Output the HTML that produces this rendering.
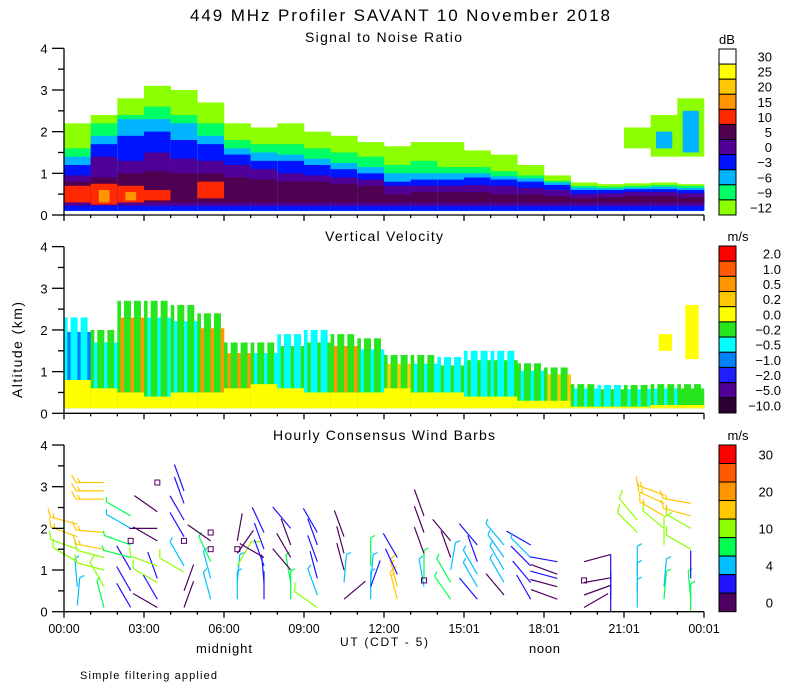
<!DOCTYPE html>
<html><head><meta charset="utf-8"><title>449 MHz Profiler SAVANT</title>
<style>
html,body{margin:0;padding:0;background:#fff;}
svg{display:block;font-family:"Liberation Sans",sans-serif;}
text{fill:#000;}
</style></head>
<body>
<svg id="chart" width="800" height="700" viewBox="0 0 800 700" xmlns="http://www.w3.org/2000/svg">
<rect x="0" y="0" width="800" height="700" fill="#fff"/>
<text x="190" y="21" font-size="17" textLength="420" lengthAdjust="spacing">449 MHz Profiler SAVANT 10 November 2018</text>
<text x="305" y="42" font-size="14" textLength="157" lengthAdjust="spacing">Signal to Noise Ratio</text>
<text x="325" y="241" font-size="14" textLength="118" lengthAdjust="spacing">Vertical Velocity</text>
<text x="273" y="440" font-size="14" textLength="222" lengthAdjust="spacing">Hourly Consensus Wind Barbs</text>
<text x="0" y="0" font-size="14" transform="translate(22,398) rotate(-90)" textLength="96" lengthAdjust="spacing">Altitude (km)</text>
<text x="340" y="646" font-size="12" textLength="88" lengthAdjust="spacing">UT  (CDT - 5)</text>
<text x="196" y="653" font-size="13" textLength="56" lengthAdjust="spacing">midnight</text>
<text x="529" y="653" font-size="13" textLength="31" lengthAdjust="spacing">noon</text>
<text x="80" y="679" font-size="11" textLength="137" lengthAdjust="spacing">Simple filtering applied</text>
<g id="layer"></g>
</svg>
<script>
// ---------- data ----------
const hours = [0,1,2,3,4,5,6,7,8,9,10,11,12,13,14,15,16,17,18,19,20,21,22,23];
const xTickLabels = ["00:00","03:00","06:00","09:00","12:00","15:01","18:01","21:01","00:01"];
const yTickLabels = ["0","1","2","3","4"];
// SNR band tops (km) per hour
const snrLimeTop   = [2.2,2.4,2.8,3.1,3.0,2.7,2.2,2.1,2.2,2.0,1.9,1.75,1.65,1.75,1.75,1.55,1.45,1.2,0.95,0.78,0.74,0.76,0.78,0.74];
const snrGreenTop  = [1.6,2.2,2.4,2.6,2.4,2.2,1.8,1.7,1.7,1.6,1.5,1.4,1.2,1.3,1.15,1.15,1.05,0.95,0.82,0.7,0.68,0.7,0.72,0.7];
const snrCyanTop   = [1.4,1.9,2.3,2.3,2.2,1.9,1.6,1.5,1.45,1.35,1.25,1.15,1.0,1.0,1.0,1.0,0.93,0.88,0.78,0.66,0.64,0.66,0.68,0.65];
const snrBlueTop   = [1.2,1.7,1.9,2.0,1.8,1.7,1.45,1.3,1.3,1.2,1.1,1.0,0.8,0.85,0.85,0.9,0.85,0.8,0.72,0.6,0.6,0.62,0.62,0.6];
const snrPurpleTop = [0.95,1.4,1.3,1.5,1.35,1.3,1.2,1.1,1.0,0.95,0.9,0.85,0.7,0.7,0.7,0.72,0.7,0.65,0.6,0.5,0.52,0.55,0.55,0.52];
const snrDarkTop   = [0.8,0.9,1.0,1.05,1.0,1.0,0.9,0.85,0.8,0.8,0.75,0.7,0.5,0.55,0.55,0.55,0.5,0.5,0.45,0.4,0.42,0.45,0.45,0.42];
const snrRedLo     = [0.3,0.25,0.3,0.35,0,0.4,0,0,0,0,0,0,0,0,0,0,0,0,0,0,0,0,0,0];
const snrRedHi     = [0.7,0.75,0.7,0.6,0,0.8,0,0,0,0,0,0,0,0,0,0,0,0,0,0,0,0,0,0];
const snrOrangeHi  = [0,0.6,0.55,0,0,0,0,0,0,0,0,0,0,0,0,0,0,0,0,0,0,0,0,0];
const snrAloftLo   = [0,0,0,0,0,0,0,0,0,0,0,0,0,0,0,0,0,0,0,0,0,1.6,1.4,1.4];
const snrAloftHi   = [0,0,0,0,0,0,0,0,0,0,0,0,0,0,0,0,0,0,0,0,0,2.1,2.4,2.8];
const snrAloftCoreLo = [0,0,0,0,0,0,0,0,0,0,0,0,0,0,0,0,0,0,0,0,0,0,1.6,1.5];
const snrAloftCoreHi = [0,0,0,0,0,0,0,0,0,0,0,0,0,0,0,0,0,0,0,0,0,0,2.0,2.5];
// Vertical velocity
const velTop       = [2.3,2.0,2.7,2.7,2.6,2.4,1.7,1.7,1.9,2.0,1.9,1.8,1.4,1.4,1.35,1.5,1.5,1.2,1.1,0.7,0.68,0.68,0.7,0.7];
const velYellowTop = [0.8,0.6,0.5,0.4,0.5,0.5,0.6,0.7,0.6,0.5,0.5,0.5,0.6,0.5,0.5,0.4,0.4,0.3,0.3,0.16,0.16,0.16,0.2,0.2];
const velMainCat   = [6,5,5,5,5,5,5,5,6,6,5,5,5,5,6,6,6,5,5,5,6,5,5,5];
const velAltCat    = [7,6,2,6,6,2,2,6,5,5,2,6,3,6,5,5,5,6,3,6,5,6,6,5];
const velAloftLo   = [0,0,0,0,0,0,0,0,0,0,0,0,0,0,0,0,0,0,0,0,0,0,1.5,1.3];
const velAloftHi   = [0,0,0,0,0,0,0,0,0,0,0,0,0,0,0,0,0,0,0,0,0,0,1.9,2.6];
// Wind barbs: hour, altitude(km), speed(m/s), direction(deg from north)
const barbHour  = [0,0,0,0,0,0, 1,1,1,1,1,1,1,1,1, 2,2,2,2,2,2,2, 3,3,3,3,3,3,3,3, 4,4,4,4,4,4,4,4, 5,5,5,5, 6,6,6,6,6, 7,7,7,7,7,7, 8,8,8,8,8,8, 9,9,9,9,9,9, 10,10,10,10,10, 11,11,11,11, 12,12,12,12, 13,13,13,13,13, 14,14,14,14,14, 15,15,15,15,15, 16,16,16,16,16, 17,17,17,17,17, 18,18,18,18,18, 19,19,19,19, 20,20,20, 21,21,21,21,21, 22,22,22,22,22,22,22, 23,23,23,23,23,23,23];
const barbAlt   = [0.15,0.6,1.2,1.5,1.8,2.1, 0.1,0.6,1.0,1.3,1.5,1.9,2.7,2.9,3.1, 0.1,0.5,1.0,1.3,1.6,2.0,2.3, 0.1,0.3,0.8,0.7,1.1,1.7,2.0,2.4, 0.1,0.5,1.1,0.95,1.8,2.2,2.6,2.9, 0.3,0.8,1.2,1.7, 0.3,0.7,1.1,1.4,1.7, 0.3,0.7,1.1,1.5,1.9,1.3, 0.3,0.7,1.0,1.3,1.6,2.0, 0.1,0.4,0.8,1.2,1.6,1.9, 0.3,0.7,1.0,1.4,1.8, 0.3,0.7,0.6,1.1, 0.3,0.6,0.9,1.3, 0.6,0.8,1.4,1.9,2.3, 0.3,0.7,1.0,1.3,1.7, 0.3,0.6,0.9,1.2,1.6, 0.4,0.7,1.0,1.3,1.6, 0.3,0.7,1.1,1.6,1.3, 0.3,0.6,0.9,1.2,0.8, 0.1,0.4,0.7,1.2, 0.0,0.3,0.7, 0.1,0.5,0.9,1.9,2.2, 0.3,0.6,1.6,2.0,2.3,2.6,2.8, 0.0,0.3,0.8,1.5,2.0,2.3,2.6];
const barbSpeed = [5,5,10,10,15,15, 8,10,10,10,15,15,15,15,15, 3,3,3,8,8,5,8, 1,3,3,10,10,1,1,1, 1,1,5,10,3,3,3,3, 5,5,8,1, 5,5,10,1,1, 3,3,3,3,3,1, 8,8,1,1,1,3, 10,5,3,3,3,3, 1,5,1,1,1, 5,5,3,8, 15,15,3,3, 5,8,1,1,1, 8,8,5,1,1, 3,5,5,3,3, 1,5,5,5,5, 3,3,3,3,5, 1,1,1,3,3, 1,1,1,1, 3,3,3, 5,5,5,10,10, 8,5,10,10,15,15,15, 8,8,3,10,10,15,15];
const barbDir   = [5,355,300,290,290,285, 345,330,285,285,280,275,270,270,270, 330,330,330,285,290,300,300, 300,330,340,300,290,300,270,305, 20,20,330,300,330,330,340,340, 345,345,335,305, 0,5,30,35,10, 0,355,340,340,335,300, 0,350,320,330,340,320, 305,340,345,340,340,330, 50,5,345,345,340, 0,5,20,0, 345,345,335,330, 350,0,340,340,340, 325,330,10,340,320, 320,330,330,340,320, 320,330,330,325,320, 330,320,315,300,315, 290,285,290,280,285, 60,70,80,75, 0,0,0, 0,0,0,315,320, 5,5,0,310,300,295,290, 0,355,0,300,300,285,280];
const calmHour  = [2,3,4,5,5,6,13,19];
const calmAlt   = [1.7,3.1,1.7,1.5,1.9,1.5,0.75,0.75];
// Colour bars
const dbLabels  = ["30","25","20","15","10","5","0","\u22123","\u22126","\u22129","\u221212"];
const velLabels = ["2.0","1.0","0.5","0.2","0.0","\u22120.2","\u22120.5","\u22121.0","\u22122.0","\u22125.0","\u221210.0"];
const windLabels= ["30","","20","","10","","4","","0"];
const windSpeedEdges = [2,4,7,10,15,20,25,30];

// ---------- styles / scales ----------
const dbColors  = ["#ffffff","#ffff00","#ffc800","#ff9600","#ff2800","#500050","#500096","#0014ff","#00b4ff","#00ff64","#8cff00"];
const velColors = ["#ff0000","#ff5a00","#ff9600","#ffc800","#ffff00","#28e61e","#00ffff","#0082ff","#1e1eff","#500096","#2d0032"];
const windColors= ["#ff0000","#ff5a00","#ff9600","#ffc800","#8cff00","#00ff50","#00c0ff","#1e14ff","#500060"];
const NS="http://www.w3.org/2000/svg";
const layer=document.getElementById('layer');
const X0=64, X1=704, HPX=(X1-X0)/24;
const panelBottom=[215,413.3,611.7], KM=41.67;
function xS(h){return X0+h*HPX;}
function yS(p,km){return panelBottom[p]-km*KM;}
function mk(tag,attrs,parent){const e=document.createElementNS(NS,tag);for(const k in attrs)e.setAttribute(k,attrs[k]);(parent||layer).appendChild(e);return e;}
function band(g,p,i,lo,hi,color,x0,w){
  if(hi<=lo) return;
  const r=mk('rect',{x:x0,y:yS(p,hi),width:w,height:(hi-lo)*KM,fill:color},g);
  
  
}

// ---------- SNR panel ----------
const gS=mk('g',{});


hours.forEach((h,i)=>{
  const x=xS(h), w=HPX+0.3;
  band(gS,0,i,0.1,snrLimeTop[i],dbColors[10],x,w);
  band(gS,0,i,0.1,snrGreenTop[i],dbColors[9],x,w);
  band(gS,0,i,0.1,snrCyanTop[i],dbColors[8],x,w);
  band(gS,0,i,0.1,snrBlueTop[i],dbColors[7],x,w);
  band(gS,0,i,0.22,snrPurpleTop[i],dbColors[6],x,w);
  band(gS,0,i,0.3,snrDarkTop[i],dbColors[5],x,w);
  band(gS,0,i,snrRedLo[i],snrRedHi[i],dbColors[4],x,w);
  band(gS,0,i,snrRedLo[i]+0.05,snrOrangeHi[i],dbColors[3],x+w*0.3,w*0.4);
  band(gS,0,i,snrAloftLo[i],snrAloftHi[i],dbColors[10],x,w);
  band(gS,0,i,snrAloftCoreLo[i],snrAloftCoreHi[i],dbColors[8],x+w*0.2,w*0.6);
});

// ---------- Velocity panel ----------
const gV=mk('g',{});


hours.forEach((h,i)=>{
  const x=xS(h), n=8, sw=HPX/n;
  for(let k=0;k<n;k++){
    const c=(k%3===1)?velColors[velAltCat[i]]:velColors[velMainCat[i]];
    band(gV,1,i,0.12,velTop[i]*(k%3===1?0.85:1),c,x+k*sw,sw+0.3);
  }
  band(gV,1,i,0.12,velYellowTop[i],velColors[4],x,HPX+0.3);
  band(gV,1,i,velAloftLo[i],velAloftHi[i],velColors[4],x+HPX*0.3,HPX*0.5);
});

// ---------- Wind barbs ----------
function windColor(s){let k=0;while(k<windSpeedEdges.length&&s>=windSpeedEdges[k])k++;return windColors[8-k];}
const gW=mk('g',{fill:'none','stroke-width':1.2});


barbHour.forEach((h,i)=>{
  const sx=xS(h+0.5), sy=yS(2,barbAlt[i]);
  const th=barbDir[i]*Math.PI/180, L=28;
  const ex=sx+L*Math.sin(th), ey=sy-L*Math.cos(th);
  const col=windColor(barbSpeed[i]);
  let d=`M${sx.toFixed(1)},${sy.toFixed(1)}L${ex.toFixed(1)},${ey.toFixed(1)}`;
  const full=Math.floor(barbSpeed[i]/10), half=(barbSpeed[i]%10)>=5?1:0;
  const fth=th+Math.PI/3;
  for(let k=0;k<full+half;k++){
    const px=ex-k*4*Math.sin(th), py=ey+k*4*Math.cos(th);
    const fl=(k<full)?9:5;
    d+=`M${px.toFixed(1)},${py.toFixed(1)}l${(fl*Math.sin(fth)).toFixed(1)},${(-fl*Math.cos(fth)).toFixed(1)}`;
  }
  const p=mk('path',{d:d,stroke:col},gW);
  
  
});
calmHour.forEach((h,i)=>{
  const r=mk('rect',{x:xS(h+0.5)-2.5,y:yS(2,calmAlt[i])-2.5,width:5,height:5,stroke:'#500060','stroke-width':1,fill:'none'},gW);
  
  
});

// ---------- Axes ----------
[0,1,2].forEach(p=>{
  const g=mk('g',{stroke:'#000','stroke-width':1.3,fill:'none'});
  
  
  const yb=panelBottom[p];
  mk('line',{x1:X0,y1:yb,x2:X0,y2:yS(p,4)},g);
  mk('line',{x1:X0,y1:yb,x2:X1,y2:yb},g);
  for(let k=0;k<=8;k++){const km=k*0.5;mk('line',{x1:X0-(k%2===0?12:6),y1:yS(p,km),x2:X0,y2:yS(p,km)},g);}
  for(let hh=0;hh<=24;hh++){mk('line',{x1:xS(hh),y1:yb,x2:xS(hh),y2:yb+(hh%3===0?6:3)},g);}
  yTickLabels.forEach((t,k)=>{
    const tx=mk('text',{x:44,y:yS(p,k)+5,'font-size':13,'text-anchor':'middle',stroke:'none'},g);
    tx.textContent=t;
    
    
  });
});
xTickLabels.forEach((t,k)=>{
  const tx=mk('text',{x:xS(k*3),y:633,'font-size':12.5,'text-anchor':'middle'});
  tx.textContent=t;
  
  
});

// ---------- Colour bars ----------
function colorbar(name,top,bottom,colors,labels,unit,unitX,labelX){
  const g=mk('g',{});
  
  
  const n=colors.length, bh=(bottom-top)/n;
  colors.forEach((c,k)=>{mk('rect',{x:719,y:top+k*bh,width:17,height:bh,fill:c,stroke:'#000','stroke-width':1},g);});
  labels.forEach((t,k)=>{
    if(!t) return;
    const tx=mk('text',{x:labelX,y:top+k*bh+bh/2+5,'font-size':13,'text-anchor':'end'},g);
    tx.textContent=t;
    
    
  });
  const u=mk('text',{x:unitX,y:top-5,'font-size':13,'text-anchor':'middle'},g);
  u.textContent=unit;
  
  
}
colorbar('snr-colorbar',49,215,dbColors,dbLabels,'dB',727,772);
colorbar('velocity-colorbar',246,413,velColors,velLabels,'m/s',738,781);
colorbar('wind-colorbar',445,611.7,windColors,windLabels,'m/s',738,773);
</script>
</body></html>
